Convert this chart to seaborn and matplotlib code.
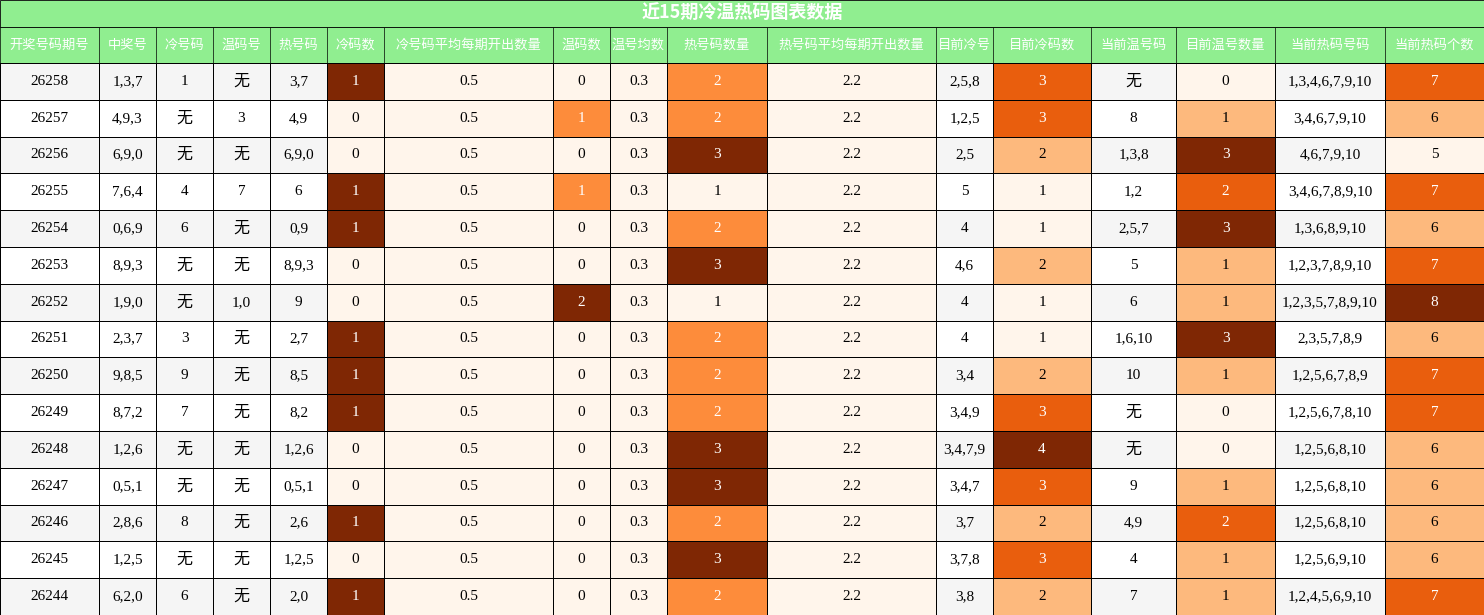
import numpy as np
import matplotlib
matplotlib.use("Agg")
import matplotlib.pyplot as plt
import seaborn as sns
from matplotlib.colors import ListedColormap

sns.set_theme(style="white")

title = "近15期冷温热码图表数据"
headers = ["开奖号码期号", "中奖号", "冷号码", "温码号", "热号码", "冷码数", "冷号码平均每期开出数量",
           "温码数", "温号均数", "热号码数量", "热号码平均每期开出数量", "目前冷号", "目前冷码数",
           "当前温号码", "目前温号数量", "当前热码号码", "当前热码个数"]
periods = ["26258", "26257", "26256", "26255", "26254", "26253", "26252", "26251", "26250",
           "26249", "26248", "26247", "26246", "26245", "26244"]
draws = ["1,3,7", "4,9,3", "6,9,0", "7,6,4", "0,6,9", "8,9,3", "1,9,0", "2,3,7", "9,8,5",
         "8,7,2", "1,2,6", "0,5,1", "2,8,6", "1,2,5", "6,2,0"]
cold_nums = ["1", "无", "无", "4", "6", "无", "无", "3", "9", "7", "无", "无", "8", "无", "6"]
warm_nums = ["无", "3", "无", "7", "无", "无", "1,0", "无", "无", "无", "无", "无", "无", "无", "无"]
hot_nums = ["3,7", "4,9", "6,9,0", "6", "0,9", "8,9,3", "9", "2,7", "8,5", "8,2", "1,2,6",
            "0,5,1", "2,6", "1,2,5", "2,0"]
cold_count = [1, 0, 0, 1, 1, 0, 0, 1, 1, 1, 0, 0, 1, 0, 1]
cold_avg = [0.5] * 15
warm_count = [0, 1, 0, 1, 0, 0, 2, 0, 0, 0, 0, 0, 0, 0, 0]
warm_avg = [0.3] * 15
hot_count = [2, 2, 3, 1, 2, 3, 1, 2, 2, 2, 3, 3, 2, 3, 2]
hot_avg = [2.2] * 15
cur_cold = ["2,5,8", "1,2,5", "2,5", "5", "4", "4,6", "4", "4", "3,4", "3,4,9", "3,4,7,9",
            "3,4,7", "3,7", "3,7,8", "3,8"]
cur_cold_count = [3, 3, 2, 1, 1, 2, 1, 1, 2, 3, 4, 3, 2, 3, 2]
cur_warm = ["无", "8", "1,3,8", "1,2", "2,5,7", "5", "6", "1,6,10", "10", "无", "无", "9",
            "4,9", "4", "7"]
cur_warm_count = [0, 1, 3, 2, 3, 1, 1, 3, 1, 0, 0, 1, 2, 1, 1]
cur_hot = ["1,3,4,6,7,9,10", "3,4,6,7,9,10", "4,6,7,9,10", "3,4,6,7,8,9,10", "1,3,6,8,9,10",
           "1,2,3,7,8,9,10", "1,2,3,5,7,8,9,10", "2,3,5,7,8,9", "1,2,5,6,7,8,9",
           "1,2,5,6,7,8,10", "1,2,5,6,8,10", "1,2,5,6,8,10", "1,2,5,6,8,10", "1,2,5,6,9,10",
           "1,2,4,5,6,9,10"]
cur_hot_count = [7, 6, 5, 7, 6, 7, 8, 6, 7, 7, 6, 6, 6, 6, 7]

columns = [periods, draws, cold_nums, warm_nums, hot_nums, cold_count, cold_avg, warm_count,
           warm_avg, hot_count, hot_avg, cur_cold, cur_cold_count, cur_warm, cur_warm_count,
           cur_hot, cur_hot_count]
widths = [99, 57, 57, 57, 57, 57, 169, 57, 57, 100, 169, 57, 98, 85, 99, 110, 99]

GREEN = "#90ee90"
oranges = sns.color_palette("Oranges", as_cmap=True)
stripe = ListedColormap(["#f5f5f5", "#ffffff"])

fig = plt.figure(figsize=(14.84, 6.15), dpi=100)
title_h = 27 / 615
fig.patches.append(plt.Rectangle((0, 1 - title_h), 1, title_h, transform=fig.transFigure,
                                 facecolor=GREEN, edgecolor="black", lw=0.6, zorder=0))
fig.text(0.5, 1 - title_h / 2, title, ha="center", va="center", color="white",
         fontsize=13, fontweight="bold", family=["Noto Sans CJK SC", "DejaVu Sans"])

gs = fig.add_gridspec(2, len(columns), width_ratios=widths, height_ratios=[36, 552],
                      left=0, right=1, bottom=0, top=1 - title_h, wspace=0, hspace=0)
data_font = ["Liberation Serif", "Noto Sans CJK SC"]
n = len(periods)
LW = 0.5
for j, col in enumerate(columns):
    hax = fig.add_subplot(gs[0, j])
    hax.set_facecolor(GREEN)
    hax.set_xticks([]); hax.set_yticks([])
    for s in hax.spines.values():
        s.set_color("black"); s.set_linewidth(LW)
    hax.text(0.5, 0.5, headers[j], ha="center", va="center", color="white", fontsize=9.5,
             family=["Noto Sans CJK SC", "DejaVu Sans"], transform=hax.transAxes)

    ax = fig.add_subplot(gs[1, j])
    numeric = not isinstance(col[0], str)
    if numeric:
        v = np.array(col, dtype=float)
        rng = v.max() - v.min()
        norm = (v - v.min()) / rng if rng > 0 else np.zeros_like(v)
        sns.heatmap(norm.reshape(-1, 1), cmap=oranges, vmin=0, vmax=1, cbar=False, ax=ax,
                    linewidths=LW, linecolor="black", xticklabels=False, yticklabels=False)
        labels = [f"{x:g}" for x in col]
        tcolors = ["white" if q >= 0.5 else "black" for q in norm]
    else:
        sns.heatmap((np.arange(n) % 2).reshape(-1, 1), cmap=stripe, vmin=0, vmax=1, cbar=False,
                    ax=ax, linewidths=LW, linecolor="black", xticklabels=False, yticklabels=False)
        labels = col
        tcolors = ["black"] * n
    for i, (lab, c) in enumerate(zip(labels, tcolors)):
        ax.text(0.5, i + 0.5, lab, ha="center", va="center", color=c,
                fontsize=11.5 if lab == "无" else 11, family=data_font)
    for s in ax.spines.values():
        s.set_visible(True); s.set_color("black"); s.set_linewidth(LW)

fig.savefig("out.png", dpi=100)
